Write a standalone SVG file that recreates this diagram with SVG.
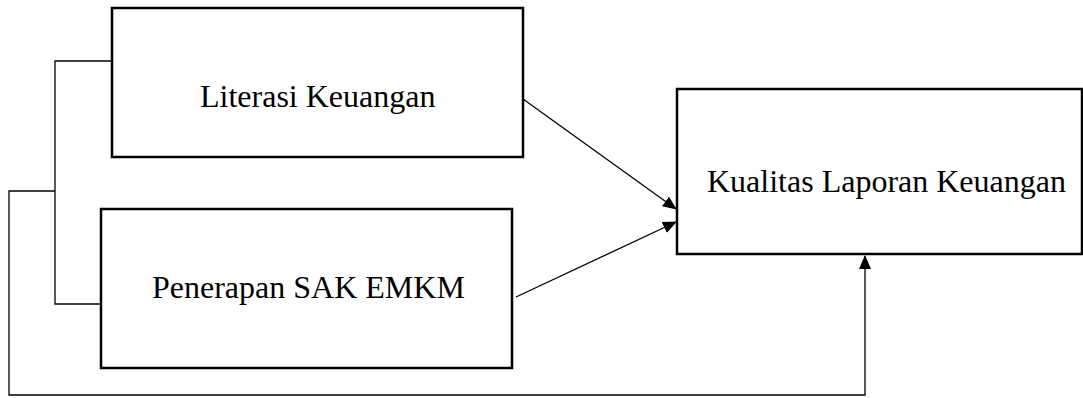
<svg xmlns="http://www.w3.org/2000/svg" width="1083" height="398" viewBox="0 0 1083 398">
<style>
.box{fill:#fff;stroke:#000;stroke-width:2.5}
.lbl{font-family:"Liberation Serif","Times New Roman",serif;font-size:32px;fill:#000}
.ln{fill:none;stroke:#000;stroke-width:1.3}
</style>
<defs>
<marker id="ah" markerWidth="14" markerHeight="12" refX="13" refY="6" orient="auto" markerUnits="userSpaceOnUse">
<path d="M0,0 L14,6 L0,12 Z" fill="#000"/>
</marker>
</defs>
<g id="connectors">
<path class="ln" d="M112,61 H55 V304 H101"/>
<path class="ln" d="M55,191 H9 V395 H865 V256" marker-end="url(#ah)"/>
<path class="ln" d="M523,99 L676,209" marker-end="url(#ah)"/>
<path class="ln" d="M516,297 L676,222" marker-end="url(#ah)"/>
</g>
<g id="literasi">
<rect class="box" x="112" y="8" width="411" height="149"/>
<text class="lbl" x="200" y="107">Literasi Keuangan</text>
</g>
<g id="penerapan">
<rect class="box" x="101" y="209" width="411" height="159"/>
<text class="lbl" x="152" y="298">Penerapan SAK EMKM</text>
</g>
<g id="kualitas">
<rect class="box" x="677" y="89" width="405" height="165"/>
<text class="lbl" x="707" y="192">Kualitas Laporan Keuangan</text>
</g>
</svg>
